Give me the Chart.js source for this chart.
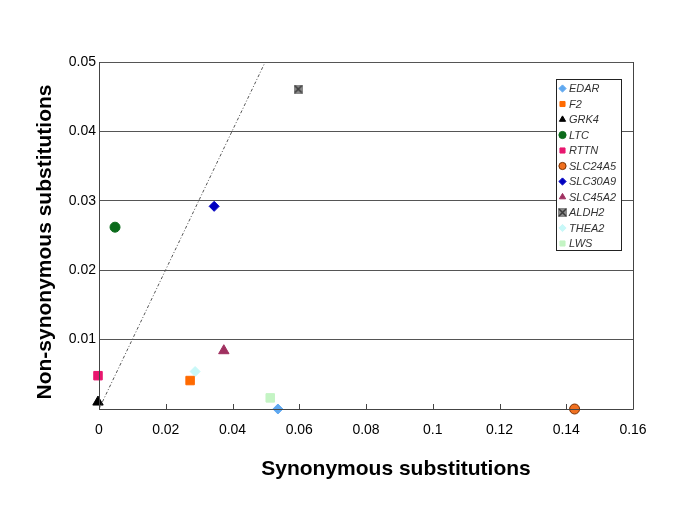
<!DOCTYPE html>
<html>
<head>
<meta charset="utf-8">
<script src="https://cdn.jsdelivr.net/npm/chart.js@4/dist/chart.umd.min.js"></script>
<style>
  html, body { margin: 0; padding: 0; background: #fff; }
  #wrap { width: 685px; height: 513px; }
</style>
</head>
<body>
<div id="wrap"><canvas id="chart"></canvas></div>
<script>
// gene labels, as in the legend
const genes = ['EDAR', 'F2', 'GRK4', 'LTC', 'RTTN', 'SLC24A5', 'SLC30A9', 'SLC45A2', 'ALDH2', 'THEA2', 'LWS'];
// synonymous (x) and non-synonymous (y) substitutions
const synValues    = [0.0536, 0.0273, -0.0003, 0.0048, -0.0003, 0.1425, 0.0345, 0.0374, 0.0597, 0.0288, 0.0513];
const nonSynValues = [0.0000, 0.0041, 0.0010, 0.0262, 0.0048, 0.0000, 0.0292, 0.0084, 0.0461, 0.0054, 0.0016];
// neutral reference line (dN = dS)
const refLineX = [0, 0.0498];
const refLineY = [0, 0.05];
const xTicks = [0, 0.02, 0.04, 0.06, 0.08, 0.1, 0.12, 0.14, 0.16];
const yTicks = [0, 0.01, 0.02, 0.03, 0.04, 0.05];

// gray square with an x for ALDH2
function crossBox(size) {
    const c = document.createElement('canvas');
    c.width = size; c.height = size;
    const g = c.getContext('2d');
    g.fillStyle = '#8a8a8a';
    g.fillRect(0, 0, size, size);
    g.strokeStyle = '#3a3a3a';
    g.lineWidth = 1.5;
    g.beginPath();
    g.moveTo(1, 1); g.lineTo(size - 1, size - 1);
    g.moveTo(size - 1, 1); g.lineTo(1, size - 1);
    g.stroke();
    return c;
}

const styles = [
    { shape: 'rectRot', fill: '#5fa8f0', border: '#5fa8f0', r: 5 },
    { shape: 'rect', fill: '#ff6a00', border: '#ff6a00', r: 6 },
    { shape: 'triangle', fill: '#000000', border: '#000000', r: 6 },
    { shape: 'circle', fill: '#0b6b1b', border: '#0b6b1b', r: 5 },
    { shape: 'rect', fill: '#e8176f', border: '#e8176f', r: 6 },
    { shape: 'circle', fill: '#f07020', border: '#7a3000', r: 5 },
    { shape: 'rectRot', fill: '#0000c0', border: '#0000c0', r: 5 },
    { shape: 'triangle', fill: '#a03060', border: '#a03060', r: 6 },
    { shape: crossBox(9), fill: '#8a8a8a', border: '#3a3a3a', r: 5 },
    { shape: 'rectRot', fill: '#c8f8f8', border: '#c8f8f8', r: 5 },
    { shape: 'rect', fill: '#c4f4c4', border: '#c4f4c4', r: 6 }
];

const datasets = genes.map((g, i) => ({
    type: 'scatter',
    label: g,
    data: [{ x: synValues[i], y: nonSynValues[i] }],
    pointStyle: styles[i].shape,
    backgroundColor: styles[i].fill,
    borderColor: styles[i].border,
    borderWidth: 1,
    pointRadius: styles[i].r,
    clip: false
}));

datasets.unshift({
    type: 'line',
    label: 'neutral',
    data: refLineX.map((x, i) => ({ x: x, y: refLineY[i] })),
    borderColor: '#555',
    borderWidth: 1,
    borderDash: [3, 2, 1, 2],
    pointRadius: 0,
    fill: false
});

const extras = {
    id: 'extras',
    afterDraw(chart) {
        const ctx = chart.ctx;
        const a = chart.chartArea;
        const xs = chart.scales.x;
        ctx.save();
        // frame: left, bottom and right edges
        ctx.strokeStyle = '#444';
        ctx.lineWidth = 1;
        ctx.beginPath();
        ctx.moveTo(a.left + 0.5, a.top); ctx.lineTo(a.left + 0.5, a.bottom + 0.5);
        ctx.lineTo(a.right + 0.5, a.bottom + 0.5); ctx.lineTo(a.right + 0.5, a.top);
        ctx.stroke();
        // short x tick marks pointing inwards
        xTicks.forEach(t => {
            const px = Math.round(xs.getPixelForValue(t)) + 0.5;
            ctx.beginPath();
            ctx.moveTo(px, a.bottom); ctx.lineTo(px, a.bottom - 5);
            ctx.stroke();
        });

        // axis titles
        ctx.fillStyle = '#000';
        ctx.font = 'bold 21px "Liberation Sans", Arial, sans-serif';
        ctx.textAlign = 'center';
        ctx.textBaseline = 'middle';
        ctx.fillText('Synonymous substitutions', 396, 469);
        ctx.translate(45, 242);
        ctx.rotate(-Math.PI / 2);
        ctx.fillText('Non-synonymous substitutions', 0, 0);
        ctx.setTransform(1, 0, 0, 1, 0, 0);

        // legend box
        const lx = 556, ly = 79, lw = 65, lh = 171;
        ctx.fillStyle = '#fff';
        ctx.fillRect(lx, ly, lw, lh);
        ctx.strokeStyle = '#222';
        ctx.strokeRect(lx + 0.5, ly + 0.5, lw, lh);
        ctx.font = 'italic 11px "Liberation Sans", Arial, sans-serif';
        ctx.textAlign = 'left';
        genes.forEach((g, i) => {
            const cy = 88.5 + i * 15.5;
            const st = styles[i];
            ctx.fillStyle = st.fill;
            ctx.strokeStyle = st.border;
            ctx.lineWidth = 1;
            Chart.helpers.drawPoint(ctx, { pointStyle: st.shape, radius: 3.6, borderWidth: 1 }, 562.5, cy);
            ctx.fillStyle = '#333';
            ctx.fillText(g, 569, cy + 0.5);
        });
        ctx.restore();
    }
};

new Chart(document.getElementById('chart'), {
    data: { datasets: datasets },
    options: {
        responsive: true,
        maintainAspectRatio: false,
        animation: false,
        layout: { padding: { top: 62, right: 52, left: 0, bottom: 0 } },
        plugins: { legend: { display: false }, tooltip: { enabled: false } },
        scales: {
            x: {
                type: 'linear',
                min: 0, max: 0.16,
                afterBuildTicks: s => { s.ticks = xTicks.map(v => ({ value: v })); },
                afterFit: s => { s.height = 104; },
                grid: { display: false },
                border: { display: false },
                ticks: {
                    color: '#000',
                    padding: 5,
                    font: { family: '"Liberation Sans", Arial, sans-serif', size: 14 },
                    callback: v => String(v)
                }
            },
            y: {
                type: 'linear',
                min: 0, max: 0.05,
                afterBuildTicks: s => { s.ticks = yTicks.map(v => ({ value: v })); },
                afterFit: s => { s.width = 99; },
                grid: { color: '#555', lineWidth: 1, drawTicks: false },
                border: { display: false },
                ticks: {
                    color: '#000',
                    padding: 3,
                    font: { family: '"Liberation Sans", Arial, sans-serif', size: 14 },
                    callback: v => v === 0 ? '' : String(v)
                }
            }
        }
    },
    plugins: [extras]
});
</script>
</body>
</html>
